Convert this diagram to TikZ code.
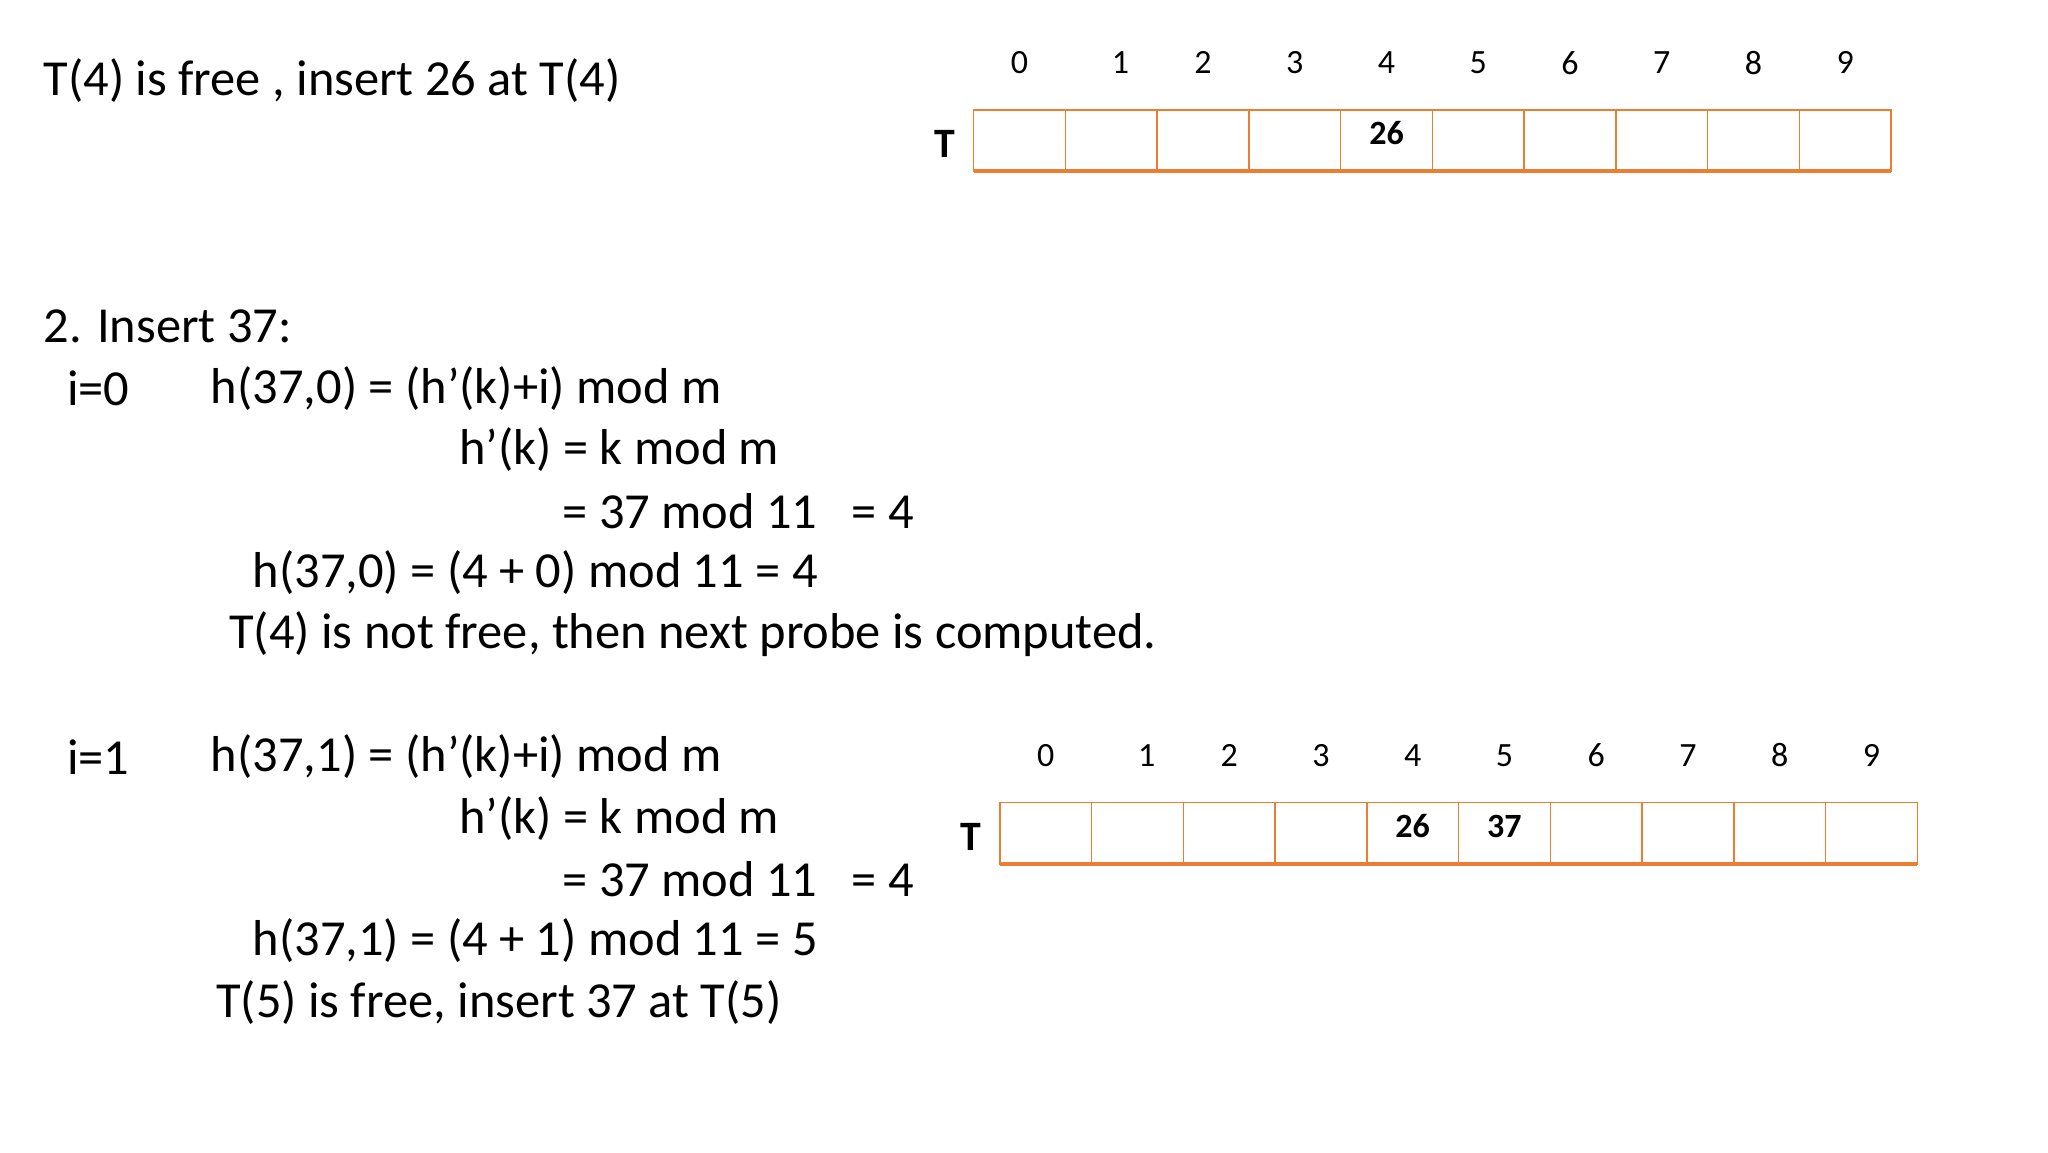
\documentclass[tikz,border=0pt]{standalone}
\usepackage{fontspec}
\setmainfont{Carlito}
\definecolor{orng}{RGB}{237,125,49}
\begin{document}
\begin{tikzpicture}[x=0.5pt,y=-0.5pt,
  txt/.style={anchor=west,inner sep=0pt,font=\fontsize{19.3}{22}\selectfont},
  idx/.style={inner sep=0pt,font=\fontsize{13}{15}\selectfont},
  cellv/.style={inner sep=0pt,font=\bfseries\fontsize{13}{15}\selectfont},
  tlab/.style={inner sep=0pt,font=\bfseries\fontsize{16}{18}\selectfont},
  cellbox/.style={draw=orng,line width=0.6pt}]
\useasboundingbox (0,0) rectangle (1567,881.5);
\fill[white] (0,0) rectangle (1567,881.5);
% texts
\node[txt] (t1) at (33,62) {T(4) is free , insert 26 at T(4)};
\node[txt] (t2) at (33,250) {2. Insert 37:};
\node[txt] (t3) at (51,297) {i=0};
\node[txt] (t4) at (161,297) {h(37,0) = (h’(k)+i) mod m};
\node[txt] (t5) at (351,344) {h’(k) = k mod m};
\node[txt] (t6) at (430,391) {= 37 mod 11 \ \ = 4};
\node[txt] (t7) at (193,438) {h(37,0) = (4 + 0) mod 11 = 4};
\node[txt] (t8) at (175,485) {T(4) is not free, then next probe is computed.};
\node[txt] (t9) at (51,579) {i=1};
\node[txt] (t10) at (161,579) {h(37,1) = (h’(k)+i) mod m};
\node[txt] (t11) at (351,626) {h’(k) = k mod m};
\node[txt] (t12) at (430,673) {= 37 mod 11 \ \ = 4};
\node[txt] (t13) at (193,720) {h(37,1) = (4 + 1) mod 11 = 5};
\node[txt] (t14) at (165,767) {T(5) is free, insert 37 at T(5)};
% tables
\foreach \X/\Y/\nm in {745/84/a,765/614/b}{
  \foreach \i in {0,...,9}{
    \draw[cellbox] ({\X+\i*70.2},\Y) rectangle ({\X+(\i+1)*70.2},\Y+47);
    \node[idx] (\nm idx\i) at ({\X+(\i+0.5)*70.2+(\i==1?7:0)},\Y-36) {\i};
  }
  \draw[orng,line width=1.5pt] (\X,\Y+47) -- ({\X+702},\Y+47);
  \node[tlab] (\nm T) at (\X-22,\Y+26) {T};
}
\node[cellv] (a4) at ({745+4.5*70.2},102) {26};
\node[cellv] (b4) at ({765+4.5*70.2},632) {26};
\node[cellv] (b5) at ({765+5.5*70.2},632) {37};
\end{tikzpicture}
\end{document}
